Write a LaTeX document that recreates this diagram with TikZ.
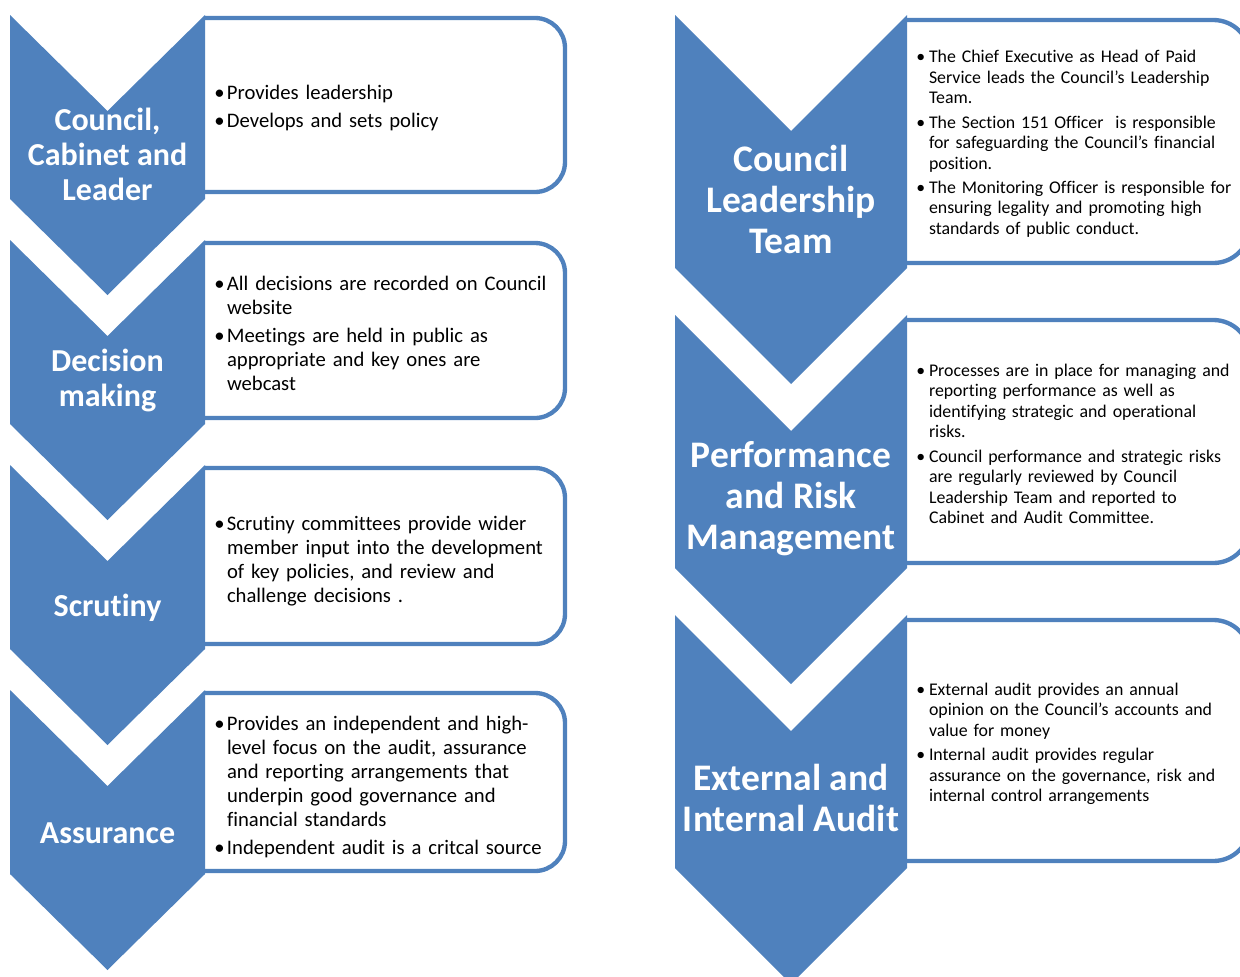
\documentclass[tikz,border=0pt]{standalone}
\usepackage{fontspec}
\setmainfont{Carlito}[Ligatures=NoCommon]
\definecolor{govblue}{HTML}{4F81BD}
\newcommand{\bitem}[1]{\par\hangindent=7.6pt\hangafter=1\noindent\makebox[7.6pt][l]{\textbullet}#1\par}

\begin{document}
\begin{tikzpicture}[x=0.6pt,y=-0.6pt,
  chev/.style={fill=govblue},
  panel/.style={draw=govblue,line width=2.6pt,fill=white,rounded corners=18pt},
  headl/.style={text=white,align=center,font=\bfseries\fontsize{19.2}{21}\selectfont},
  headr/.style={text=white,align=center,font=\bfseries\fontsize{22.5}{24.6}\selectfont},
  bodyl/.style={anchor=west,inner sep=0pt,text width=225pt,align=left,
    font=\fontsize{12.4}{14.4}\selectfont\setlength{\parskip}{2.4pt}},
  bodyr/.style={anchor=west,inner sep=0pt,text width=225pt,align=left,
    font=\fontsize{10.7}{12.3}\selectfont\setlength{\parskip}{2.2pt}}]
\useasboundingbox (0,0) rectangle (1240,976);
\clip (0,0) rectangle (1240,976);

% left column
\draw[panel] (205,18) -- (565,18) -- (565,192) -- (205,192);
\draw[panel] (205,243) -- (565,243) -- (565,418) -- (205,418);
\draw[panel] (205,468) -- (565,468) -- (565,644) -- (205,644);
\draw[panel] (205,693) -- (565,693) -- (565,871) -- (205,871);
\fill[chev] (10,15) -- (107.5,111) -- (205,15) -- (205,199) -- (107.5,295) -- (10,199) -- cycle;
\fill[chev] (10,240) -- (107.5,336) -- (205,240) -- (205,424) -- (107.5,520) -- (10,424) -- cycle;
\fill[chev] (10,465) -- (107.5,561) -- (205,465) -- (205,649) -- (107.5,745) -- (10,649) -- cycle;
\fill[chev] (10,690) -- (107.5,786) -- (205,690) -- (205,874) -- (107.5,970) -- (10,874) -- cycle;

\node (council) at (107.5,154) [headl] {Council,\\Cabinet and\\Leader};
\node (decision) at (107.5,380) [headl] {Decision\\making};
\node (scrutiny) at (107.5,608) [headl] {Scrutiny};
\node (assurance) at (107.5,833) [headl] {Assurance};

\node (council-txt) at (214,101) [bodyl] {\bitem{Provides leadership}\bitem{Develops and sets policy}};
\node (decision-txt) at (214,327) [bodyl] {\bitem{All decisions are recorded on Council\newline website}\bitem{Meetings are held in public as\newline appropriate and key ones are\newline webcast}};
\node (scrutiny-txt) at (214,554) [bodyl] {\bitem{Scrutiny committees provide wider\newline member input into the development\newline of key policies, and review and\newline challenge decisions .}};
\node (assurance-txt) at (214,780) [bodyl] {\bitem{Provides an independent and high-\newline level focus on the audit, assurance\newline and reporting arrangements that\newline underpin good governance and\newline financial standards}\bitem{Independent audit is a critcal source}};

% right column
\draw[panel,rounded corners=22pt] (907,20) -- (1250,20) -- (1250,263) -- (907,263);
\draw[panel,rounded corners=22pt] (907,320) -- (1250,320) -- (1250,563) -- (907,563);
\draw[panel,rounded corners=22pt] (907,620) -- (1250,620) -- (1250,861) -- (907,861);
\fill[chev] (675,15) -- (791,131) -- (907,15) -- (907,268) -- (791,384) -- (675,268) -- cycle;
\fill[chev] (675,315) -- (791,431) -- (907,315) -- (907,568) -- (791,684) -- (675,568) -- cycle;
\fill[chev] (675,615) -- (791,731) -- (907,615) -- (907,868) -- (791,984) -- (675,868) -- cycle;

\node (clt) at (791,199) [headr] {Council\\Leadership\\Team};
\node (risk) at (791,499) [headr] {Performance\\and Risk\\Management};
\node (audit) at (791,798) [headr] {External and\\Internal Audit};

\node (clt-txt) at (916,138) [bodyr] {\bitem{The Chief Executive as Head of Paid\newline Service leads the Council’s Leadership\newline Team.}\bitem{The Section 151 Officer\ \ is responsible\newline for safeguarding the Council’s financial\newline position.}\bitem{The Monitoring Officer is responsible for\newline ensuring legality and promoting high\newline standards of public conduct.}};
\node (risk-txt) at (916,438) [bodyr] {\bitem{Processes are in place for managing and\newline reporting performance as well as\newline identifying strategic and operational\newline risks.}\bitem{Council performance and strategic risks\newline are regularly reviewed by Council\newline Leadership Team and reported to\newline Cabinet and Audit Committee.}};
\node (audit-txt) at (916,738) [bodyr] {\bitem{External audit provides an annual\newline opinion on the Council’s accounts and\newline value for money}\bitem{Internal audit provides regular\newline assurance on the governance, risk and\newline internal control arrangements}};
\end{tikzpicture}
\end{document}
